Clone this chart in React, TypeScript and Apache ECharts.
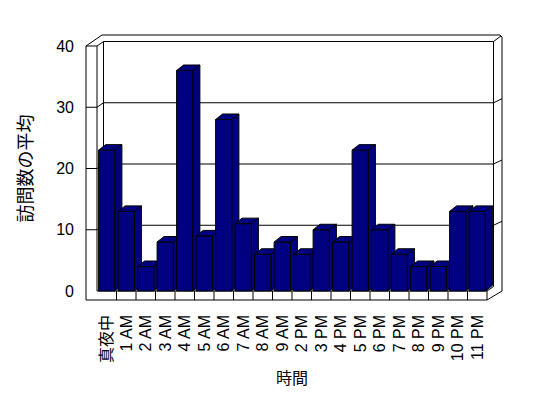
import React, { useEffect, useRef } from "react";
import * as echarts from "echarts";

const categories = [
  "真夜中", "1 AM", "2 AM", "3 AM", "4 AM", "5 AM", "6 AM", "7 AM", "8 AM", "9 AM",
  "2 PM", "3 PM", "4 PM", "5 PM", "6 PM", "7 PM", "8 PM", "9 PM", "10 PM", "11 PM",
];
const visits = [23, 13, 4, 8, 36, 9, 28, 11, 6, 8, 6, 10, 8, 23, 10, 6, 4, 4, 13, 13];
const yTicks = [0, 10, 20, 30, 40];

const FONT = "'Liberation Sans', Arial, 'Noto Sans CJK JP', sans-serif";
const NAVY = "#000080";

export default function App() {
  const ref = useRef<HTMLDivElement>(null);
  useEffect(() => {
    if (!ref.current) return;
    const chart = echarts.init(ref.current, null, { renderer: "svg" });
    const ln = (x1: number, y1: number, x2: number, y2: number) => ({
      type: "line",
      shape: { x1, y1, x2, y2 },
      style: { stroke: "#000", lineWidth: 1 },
    });
    chart.setOption({
      animation: false,
      backgroundColor: "#fff",
      grid: { left: 97, top: 46, width: 390, height: 245 },
      xAxis: {
        type: "category",
        data: categories,
        name: "時間",
        nameLocation: "middle",
        nameGap: 76,
        nameTextStyle: { fontSize: 16, color: "#000", fontFamily: FONT },
        axisLine: { show: false },
        axisTick: { show: false },
        axisLabel: { rotate: 90, margin: 24, fontSize: 16, color: "#000", fontFamily: FONT, interval: 0 },
      },
      yAxis: {
        type: "value",
        min: 0,
        max: 40,
        interval: 10,
        name: "訪問数の平均",
        nameLocation: "middle",
        nameGap: 62,
        nameTextStyle: { fontSize: 18, color: "#000", fontFamily: FONT },
        axisLine: { show: false },
        axisTick: { show: false },
        splitLine: { show: false },
        axisLabel: { margin: 23, fontSize: 16, color: "#000", fontFamily: FONT },
      },
      series: [
        {
          type: "custom",
          z: 1,
          silent: true,
          data: [[0, 0]],
          renderItem: (params: any, api: any) => {
            const cs = params.coordSys;
            const gx = cs.x, gy = cs.y, gr = cs.x + cs.width, gb = cs.y + cs.height;
            const bw = api.size([1, 0])[0];
            const children: any[] = [];
            children.push(ln(gx - 11, gy, gx - 11, gb + 9));
            children.push(ln(gx, gy, gx, gb));
            children.push(ln(gx - 11, gy, gx, gy));
            children.push(ln(gx - 11, gy, gx + 5, gy - 11));
            children.push(ln(gx + 5, gy - 11, gr + 13, gy - 11));
            children.push(ln(gr + 13, gy - 11, gr + 15, gy - 9));
            children.push(ln(gr + 15, gy - 9, gr + 15, gb));
            children.push(ln(gx, gy, gx + 6.5, gy - 4.5));
            children.push(ln(gx + 6.5, gy - 4.5, gr + 6.5, gy - 4.5));
            children.push(ln(gx + 6.5, gy - 4.5, gx + 6.5, gb - 4.5));
            children.push(ln(gr + 6.5, gy - 4.5, gr + 6.5, gb - 4.5));
            children.push(ln(gr + 6.5, gy - 4.5, gr + 14, gy - 10));
            children.push(ln(gx - 11, gb + 9, gr, gb + 9));
            children.push(ln(gx, gb, gr, gb));
            children.push(ln(gr, gb, gr, gb + 9));
            children.push(ln(gr, gb + 9, gr + 15, gb));
            children.push(ln(gr, gb, gr + 6.5, gb - 4.5));
            for (let i = 1; i < categories.length; i++) {
              const x = gx + i * bw;
              children.push(ln(x, gb, x, gb + 9));
            }
            yTicks.forEach((t) => {
              if (t === 0 || t === 40) return;
              const y = api.coord([0, t])[1];
              children.push(ln(gx - 11, y, gx, y));
              children.push(ln(gx, y, gx + 6.5, y - 4.5));
              children.push(ln(gx + 6.5, y - 4.5, gr + 6.5, y - 4.5));
              children.push(ln(gr + 6.5, y - 4.5, gr + 15, y - 8.5));
            });
            return { type: "group", children };
          },
        },
        {
          type: "custom",
          z: 2,
          data: visits.map((v, i) => [i, v]),
          encode: { x: 0, y: 1 },
          renderItem: (params: any, api: any) => {
            const i = api.value(0);
            const v = api.value(1);
            const top = api.coord([i, v]);
            const base = api.coord([i, 0]);
            const w = api.size([1, 0])[0] * 0.836;
            const x0 = top[0] - w / 2, x1 = top[0] + w / 2;
            const yt = top[1], yb = base[1];
            const dx = 7, dy = 5.5;
            const st = { fill: NAVY, stroke: "#000", lineWidth: 1 };
            return {
              type: "group",
              children: [
                { type: "polygon", shape: { points: [[x0, yb], [x0, yt], [x1, yt], [x1, yb]] }, style: st },
                { type: "polygon", shape: { points: [[x0, yt], [x0 + dx, yt - dy], [x1 + dx, yt - dy], [x1, yt]] }, style: st },
                { type: "polygon", shape: { points: [[x1, yt], [x1 + dx, yt - dy], [x1 + dx, yb - dy], [x1, yb]] }, style: st },
              ],
            };
          },
        },
      ],
    });
    return () => chart.dispose();
  }, []);
  return <div ref={ref} style={{ width: 548, height: 398, position: "absolute", left: 0, top: 0 }} />;
}
